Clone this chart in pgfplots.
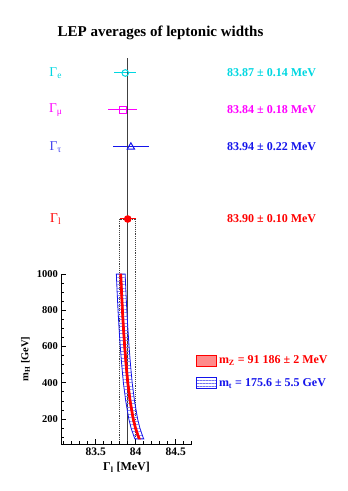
\documentclass[border=0pt]{standalone}
\usepackage{pgfplots}
\pgfplotsset{compat=1.18}
\usepackage{fontspec}
\setmainfont{Liberation Serif}
\usetikzlibrary{patterns,patterns.meta}

\definecolor{lepcyan}{RGB}{0,215,225}
\definecolor{lepmag}{RGB}{255,0,255}
\definecolor{lepblue}{RGB}{20,20,235}

\begin{document}
\begin{tikzpicture}[x=1pt,y=1pt]
\path (0,0) rectangle (348,491);

% upper panel: single measurements (y is only a row position)
\begin{axis}[at={(61.3pt,0pt)}, anchor=south west, scale only axis,
  width=130.4pt, height=491pt,
  xmin=83.07, xmax=84.7, ymin=0, ymax=491, hide axis, clip=false]

\addplot[lepcyan, line width=1pt, mark=o, mark size=3.3pt, mark options={line width=1pt},
  error bars/.cd, x dir=both, x explicit, error mark=none,
  error bar style={line width=1pt}]
  coordinates {(83.87,418) +- (0.14,0)};
\addplot[lepmag, line width=1pt, mark=square, mark size=3.7pt, mark options={line width=1pt},
  error bars/.cd, x dir=both, x explicit, error mark=none,
  error bar style={line width=1pt}]
  coordinates {(83.84,381) +- (0.18,0)};
\addplot[lepblue, line width=1pt, mark=triangle, mark size=4.2pt, mark options={line width=1pt},
  error bars/.cd, x dir=both, x explicit, error mark=none,
  error bar style={line width=1pt}]
  coordinates {(83.94,344) +- (0.22,0)};

\addplot[black!75, densely dotted, line width=0.9pt]
  coordinates {(83.8,47)(83.8,272)(84.0,272)(84.0,47)};
\addplot[black!75, line width=0.9pt] coordinates {(83.9,47)(83.9,433)};

\addplot[red, line width=1pt, mark=*, mark size=3.3pt,
  error bars/.cd, x dir=both, x explicit, error mark=none,
  error bar style={line width=1pt}]
  coordinates {(83.90,272) +- (0.10,0)};

\node[font=\bfseries\fontsize{15}{18}\selectfont] at (axis cs:84.31,458) {LEP averages of leptonic widths};

\node[lepcyan, font=\fontsize{13.5}{16}\selectfont] at (axis cs:83.0,418) {Γ\textsubscript{e}};
\node[lepmag, font=\fontsize{13.5}{16}\selectfont] at (axis cs:83.0,381) {Γ\textsubscript{μ}};
\node[lepblue!80, font=\fontsize{13.5}{16}\selectfont] at (axis cs:83.0,344) {Γ\textsubscript{τ}};
\node[red, font=\fontsize{13.5}{16}\selectfont] at (axis cs:83.0,272) {Γ\textsubscript{l}};

\node[lepcyan, anchor=west, font=\bfseries\fontsize{12}{14}\selectfont] at (axis cs:85.1,418) {83.87 ± 0.14 MeV};
\node[lepmag, anchor=west, font=\bfseries\fontsize{12}{14}\selectfont] at (axis cs:85.1,381) {83.84 ± 0.18 MeV};
\node[lepblue, anchor=west, font=\bfseries\fontsize{12}{14}\selectfont] at (axis cs:85.1,344) {83.94 ± 0.22 MeV};
\node[red, anchor=west, font=\bfseries\fontsize{12}{14}\selectfont] at (axis cs:85.1,272) {83.90 ± 0.10 MeV};
\end{axis}

% lower panel: prediction versus m_H
\begin{axis}[at={(61.3pt,47pt)}, anchor=south west, scale only axis,
  width=130.4pt, height=170pt,
  xmin=83.07, xmax=84.7, ymin=62, ymax=1000, clip=false,
  axis x line=bottom, axis y line=left,
  axis line style={-, line width=0.8pt},
  tick align=inside, major tick length=4.5pt, minor tick length=2.5pt,
  every tick/.style={line width=0.7pt, black},
  xtick={83.5,84,84.5}, xticklabels={83.5,84,84.5},
  minor xtick={83.1,83.2,83.3,83.4,83.6,83.7,83.8,83.9,84.1,84.2,84.3,84.4,84.6,84.7},
  ytick={200,400,600,800,1000}, yticklabels={200,400,600,800,1000},
  minor ytick={100,150,250,300,350,450,500,550,650,700,750,850,900,950},
  /pgf/number format/assume math mode=true,
  xticklabel style={font=\bfseries\fontsize{11.5}{13}\selectfont},
  yticklabel style={font=\bfseries\fontsize{10.5}{12}\selectfont},
  xlabel={Γ\textsubscript{l} [MeV]},
  ylabel={m\textsubscript{H} [GeV]},
  xlabel style={font=\bfseries\fontsize{12}{14}\selectfont},
  ylabel style={font=\bfseries\fontsize{10.5}{12}\selectfont},
  legend style={at={(rel axis cs:1.01,0.424)}, anchor=west, draw=none, fill=none,
    font=\bfseries\fontsize{12}{14}\selectfont, row sep=9pt,
    legend cell align=left},
  legend image code/.code={\draw[#1] (-3pt,-5.5pt) rectangle (17pt,5.5pt);}]

\addlegendimage{draw=red, line width=0.8pt, fill=red!45}
\addlegendentry{\textcolor{red}{m\textsubscript{Z} = 91 186 ± 2 MeV}}
\addlegendimage{draw=lepblue, line width=0.8pt, pattern={Lines[angle=0,distance=3pt,line width=0.4pt]}, pattern color=lepblue!60}
\addlegendentry{\textcolor{lepblue}{m\textsubscript{t} = 175.6 ± 5.5 GeV}}

% m_t band
\addplot[forget plot, draw=lepblue, line width=0.8pt, pattern={Lines[angle=0,distance=3.5pt,line width=0.4pt]}, pattern color=lepblue!50]
  coordinates {
  (83.991,90)(83.981,100)(83.942,150)(83.914,200)(83.875,300)(83.846,400)
  (83.825,500)(83.807,600)(83.792,700)(83.779,800)(83.768,900)(83.758,1000)
  (83.868,1000)(83.878,900)(83.889,800)(83.902,700)(83.917,600)(83.935,500)
  (83.956,400)(83.985,300)(84.024,200)(84.052,150)(84.091,100)(84.101,90)} -- cycle;

% m_Z band
\addplot[forget plot, draw=red, line width=0.8pt, fill=red]
  coordinates {
  (84.034,90)(84.024,100)(83.985,150)(83.957,200)(83.918,300)(83.889,400)
  (83.868,500)(83.850,600)(83.835,700)(83.822,800)(83.811,900)(83.801,1000)
  (83.825,1000)(83.835,900)(83.846,800)(83.859,700)(83.874,600)(83.892,500)
  (83.913,400)(83.942,300)(83.981,200)(84.009,150)(84.048,100)(84.058,90)} -- cycle;
\end{axis}
\end{tikzpicture}
\end{document}
